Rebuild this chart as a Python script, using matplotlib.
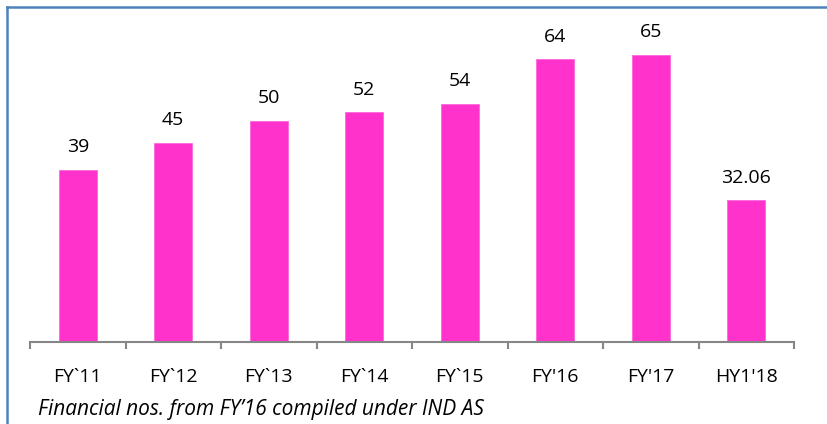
import matplotlib.pyplot as plt
from matplotlib.lines import Line2D

categories = ["FY`11", "FY`12", "FY`13", "FY`14", "FY`15", "FY'16", "FY'17", "HY1'18"]
values = [39, 45, 50, 52, 54, 64, 65, 32.06]
value_labels = ["39", "45", "50", "52", "54", "64", "65", "32.06"]
footnote = "Financial nos. from FY\u201916 compiled under IND AS"

plt.rcParams['font.family'] = ['Open Sans', 'DejaVu Sans']

W, H = 827, 424
fig = plt.figure(figsize=(W / 100, H / 100), dpi=100)
fig.patch.set_facecolor('white')

# plot area in pixel coordinates
left, right, base, top = 30, 794, 342, 33
ax = fig.add_axes([left / W, 1 - base / H, (right - left) / W, (base - top) / H])
ax.set_xlim(-0.5, len(categories) - 0.5)
ax.set_ylim(0, 70)

x = range(len(categories))
ax.bar(x, values, width=0.4, color='#FF33CC', edgecolor='#FF66DD', linewidth=0.6, zorder=2)
for xi, v, lab in zip(x, values, value_labels):
    ax.annotate(lab, (xi, v), xytext=(0, 10), textcoords='offset points',
                ha='center', va='bottom', fontsize=14, color='black')

for s in ['top', 'right', 'left']:
    ax.spines[s].set_visible(False)
ax.spines['bottom'].set_color('#868686')
ax.spines['bottom'].set_linewidth(1.5)
ax.set_yticks([])
ax.set_xticks([i - 0.5 for i in range(len(categories) + 1)], minor=False)
ax.set_xticklabels([])
ax.tick_params(axis='x', which='major', length=5, width=1.5, color='#868686', direction='out')
ax.set_xticks(list(x), minor=True)
ax.set_xticklabels(categories, minor=True)
ax.tick_params(axis='x', which='minor', length=0, pad=19, labelsize=14)

fig.text(38 / W, 1 - 410 / H, footnote, fontsize=15, style='italic', va='center', ha='left')

# chart frame (left and top edges)
c = '#4F81BD'
fig.add_artist(Line2D([7 / W, 7 / W], [0, 1 - 7 / H], color=c, linewidth=1.8, transform=fig.transFigure))
fig.add_artist(Line2D([7 / W, 1], [1 - 7 / H, 1 - 7 / H], color=c, linewidth=1.8, transform=fig.transFigure))

fig.savefig('out.png', dpi=100)
